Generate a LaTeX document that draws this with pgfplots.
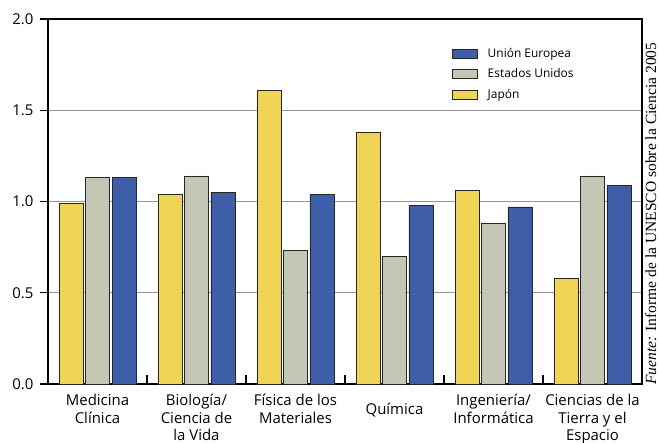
\documentclass[border=0pt]{standalone}
\usepackage{fontspec}
\setmainfont{Open Sans}
\newfontfamily\srcfont{Liberation Serif}
\usepackage{pgfplots}
\pgfplotsset{compat=1.18}
\definecolor{japon}{RGB}{240,212,85}
\definecolor{eeuu}{RGB}{196,199,180}
\definecolor{ue}{RGB}{63,94,168}

\begin{document}
\begin{tikzpicture}
\begin{axis}[
  width=594bp, height=365bp, scale only axis,
  ybar=2.5bp, bar width=24bp,
  xmin=-0.5, xmax=5.5, ymin=0, ymax=2,
  ytick={0,0.5,1,1.5,2},
  yticklabel style={/pgf/number format/fixed,
    /pgf/number format/fixed zerofill,
    /pgf/number format/precision=1,
    /pgf/number format/assume math mode=true, xshift=-3bp},
  ymajorgrids, grid style={draw={rgb,255:red,150;green,150;blue,150}, line width=0.8bp},
  xtick={0,...,5},
  xticklabels={{Medicina\\Clínica},{Biología/\\Ciencia de\\la Vida},{Física de los\\Materiales},{},{Ingeniería/\\Informática},{Ciencias de la\\Tierra y el\\Espacio}},
  extra x ticks={3},
  extra x tick labels={Química},
  extra x tick style={major tick length=0pt, xticklabel style={yshift=-9bp}, grid=none},
  minor xtick={0.5,1.5,...,4.5},
  xtick pos=bottom, ytick pos=left,
  xtick align=inside, ytick align=outside,
  major tick length=8bp, minor tick length=9bp,
  major x tick style={draw=none},
  minor tick style={line width=1.2bp, black},
  major tick style={line width=1.2bp, black},
  axis line style={line width=1.4bp},
  tick label style={font=\fontsize{15}{17.7}\selectfont},
  xticklabel style={align=center, anchor=north, yshift=-6.5bp},
  legend style={draw=none, fill=none, at={(0.675,0.926)}, anchor=north west,
    font=\fontsize{12}{13}\selectfont,
    nodes={inner sep=0pt, text height=9bp, text depth=2bp},
    row sep=9.5bp, column sep=10bp},
  legend cell align=left,
  reverse legend,
  legend image code/.code={\draw[#1] (0bp,-4.5bp) rectangle (25bp,4.5bp);},
]
\addplot[fill=japon, draw=black!85, line width=0.6bp] coordinates {(0,0.99) (1,1.04) (2,1.61) (3,1.38) (4,1.06) (5,0.58)};
\addplot[fill=eeuu, draw=black!85, line width=0.6bp] coordinates {(0,1.13) (1,1.14) (2,0.73) (3,0.70) (4,0.88) (5,1.14)};
\addplot[fill=ue, draw=black!85, line width=0.6bp] coordinates {(0,1.13) (1,1.05) (2,1.04) (3,0.98) (4,0.97) (5,1.09)};
\legend{Japón, Estados Unidos, Unión Europea}
\end{axis}
\node[rotate=90, anchor=base west, inner sep=0pt, font=\srcfont\fontsize{15.6}{18}\selectfont] at (608bp,-1bp) {\textit{Fuente:} Informe de la UNESCO sobre la Ciencia 2005};
\pgfresetboundingbox
\path (-48bp,-59bp) rectangle (611bp,384bp);
\end{tikzpicture}
\end{document}
